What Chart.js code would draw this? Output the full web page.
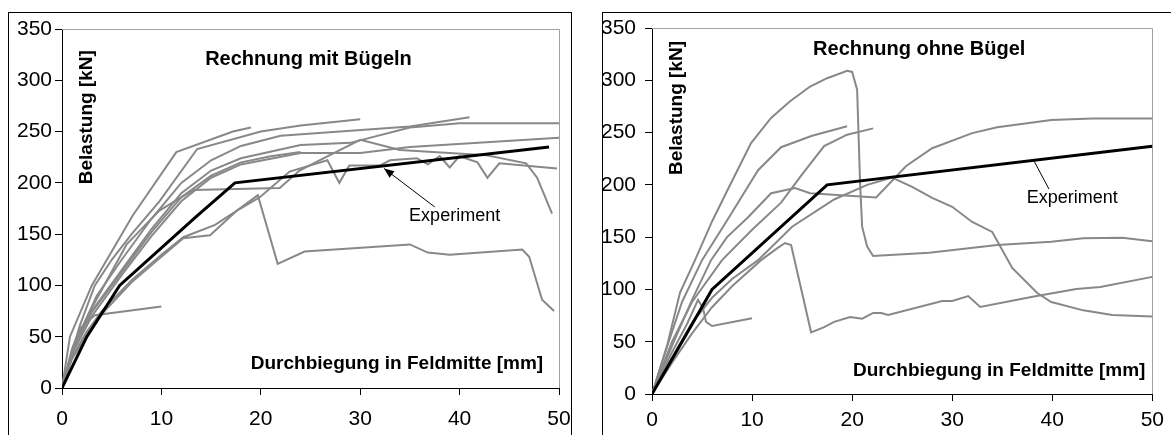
<!DOCTYPE html>
<html><head><meta charset="utf-8">
<script src="https://cdn.jsdelivr.net/npm/chart.js@4.4.1/dist/chart.umd.min.js"></script>
<style>
html,body{margin:0;padding:0;background:#fff;overflow:hidden;width:1171px;height:435px;position:relative;}
.frame{position:absolute;border:1px solid #000;box-sizing:border-box;}
canvas{position:absolute;top:0;}
</style></head><body>
<div class="frame" style="left:8px;top:12px;width:564px;height:600px;"></div>
<div class="frame" style="left:602px;top:12px;width:700px;height:600px;"></div>
<canvas id="c1" width="585" height="435" style="left:0px"></canvas>
<canvas id="c2" width="586" height="435" style="left:585px"></canvas>
<script>
// ---------- tick values ----------
const xTickValues = [0, 10, 20, 30, 40, 50];
const yTickValues = [0, 50, 100, 150, 200, 250, 300, 350];

// ---------- texts ----------
const leftTitle = 'Rechnung mit Bügeln';
const rightTitle = 'Rechnung ohne Bügel';
const yAxisTitle = 'Belastung [kN]';
const xAxisTitle = 'Durchbiegung in Feldmitte [mm]';
const expLabel = 'Experiment';

// ---------- left chart: Rechnung mit Bügeln ----------
const leftExperiment = [[0,0],[2.5,50],[5.8,100],[13.5,167],[17.4,200],[49,235]];
const leftCalc1 = [[0,0],[0.8,50],[3,100],[7.1,168],[11.5,230],[17.2,250],[19,254]];
const leftCalc2 = [[0,0],[1.8,61],[3.3,100],[5,125],[7,150],[9.8,182],[13.6,233],[20,250],[24,256],[30,262]];
const leftCalc3 = [[0,0],[1.5,48],[3.5,90],[6,125],[9,165],[12,200],[15,222],[18,236],[22,246],[35,255],[41,264]];
const leftCalc4 = [[0,0],[1.2,40],[3,75],[6,115],[9,155],[12,190],[15,212],[18,224],[24,237],[29,239],[35,254],[40,258],[50,258]];
const leftCalc5 = [[0,0],[1,33],[3,70],[6,110],[9,148],[12,182],[15,205],[18,218],[24,229],[30,229],[35,235],[50,244]];
const leftCalc6 = [[0,0],[1,36],[3,74],[6,113],[9,152],[12,186],[15,207],[18,220],[21,226],[24,230]];
const leftCalc7 = [[0,0],[1.2,42],[3,78],[6.5,140],[9.8,173],[13.2,193],[21.9,195],[23.9,212],[25.9,222],[30,242],[34,232],[42.7,227],[46.7,219],[47.8,205],[49.3,170]];
const leftCalc8 = [[0,0],[1,30],[2.5,55],[4,75],[7,105],[10,130],[12.2,147],[15.4,159],[17.6,173],[19.9,186],[22.9,211],[26.7,222],[27.9,200],[28.9,217],[32,217],[33,222],[35.7,224],[36.8,218],[38,226],[39,215],[40,226],[41.8,220],[42.8,205],[44,219],[49.8,214]];
const leftCalc9 = [[0,0],[1,28],[2.5,52],[4,72],[7,103],[10,128],[12.2,146],[14.9,149],[17.6,173],[19.7,188],[21.7,121],[24.4,133],[35,140],[36.8,132],[39,130],[46.3,135],[47,128],[48.3,86],[49.5,75]];
const leftCalc10 = [[0,0],[1,38],[1.8,58],[3.3,71],[10,79.5]];

// ---------- right chart: Rechnung ohne Bügel ----------
const rightExperiment = [[0,0],[6,100],[17.5,200],[50,237]];
const rightCalc1 = [[0,0],[1.5,46],[2.8,97],[4.3,128],[6,165],[7.7,198],[9.9,240],[11.9,264],[13.8,280],[15.8,294],[17.5,302],[19.5,309],[20,308],[20.5,291],[20.8,200],[21,160],[21.5,141],[22.1,132],[27.7,135],[34.5,142.5],[39.9,145.6],[43.1,149],[47,149.5],[50,146]];
const rightCalc2 = [[0,0],[1.5,45],[3,88],[5,128],[7.7,169],[10.6,214],[12.9,236],[16,247],[19.5,256]];
const rightCalc3 = [[0,0],[2,50],[4,88],[7,128],[10,157],[12.9,183],[15,210],[17.2,237],[19.5,248],[22.1,254]];
const rightCalc4 = [[0,0],[2,46],[4,90],[5.9,128],[7.5,150],[9.6,169],[11.9,192],[14.3,197],[15.8,192],[22.4,188],[25.4,218],[28,235],[32,249.5],[34.5,255],[39.9,262],[44,263.5],[50,263.5]];
const rightCalc5 = [[0,0],[2,35],[4,68],[6,92],[8,110],[10.6,128],[14,160],[18.2,186],[21.5,200],[24,207],[26,198],[28,187.5],[30,179],[32,164.5],[34,155],[36,120.5],[38.5,96.6],[39.9,88],[43.1,80],[46,75.5],[50,74]];
const rightCalc6 = [[0,0],[2,30],[4,58],[6,83],[8,103],[10.9,128],[12.6,140],[13.3,144.4],[13.9,142.5],[15.9,59],[17.2,64],[18.2,69],[19.8,73.6],[21,72],[22.1,77.5],[22.9,77.5],[23.6,75.5],[29,89],[30,89],[31.6,93.7],[32.8,83.2],[37.9,92.8],[42.4,100.4],[44.8,102.3],[50,112]];
const rightCalc7 = [[0,0],[2,40],[3.5,67],[4.6,90],[5.1,82],[5.4,69],[6,65],[10,72.5]];

const leftCalcs = [leftCalc1,leftCalc2,leftCalc3,leftCalc4,leftCalc5,leftCalc6,leftCalc7,leftCalc8,leftCalc9,leftCalc10];
const rightCalcs = [rightCalc1,rightCalc2,rightCalc3,rightCalc4,rightCalc5,rightCalc6,rightCalc7];

// ---------- rendering ----------
const FONT = '"Liberation Sans", Arial, Helvetica, sans-serif';
const toXY = arr => arr.map(p => ({x: p[0], y: p[1]}));

const decor = {
  id: 'decor',
  beforeDatasetsDraw(chart) {
    const {ctx, chartArea: a} = chart;
    ctx.save();
    ctx.strokeStyle = '#a0a0a0';
    ctx.lineWidth = 1;
    ctx.beginPath();
    ctx.moveTo(a.left, Math.round(a.top) + 0.5);
    ctx.lineTo(Math.round(a.right) + 0.5, Math.round(a.top) + 0.5);
    ctx.lineTo(Math.round(a.right) + 0.5, a.bottom);
    ctx.stroke();
    ctx.restore();
  },
  afterDatasetsDraw(chart, args, o) {
    const ctx = chart.ctx;
    const px = v => chart.scales.x.getPixelForValue(v);
    const py = v => chart.scales.y.getPixelForValue(v);
    ctx.save();
    ctx.fillStyle = '#000';
    ctx.textBaseline = 'middle';
    ctx.font = 'bold 20px ' + FONT;
    ctx.textAlign = 'left';
    ctx.fillText(o.title, px(o.titleAt[0]), py(o.titleAt[1]));
    ctx.font = 'bold 19px ' + FONT;
    ctx.textAlign = 'center';
    ctx.fillText(o.xTitle, px(o.xTitleAt[0]), py(o.xTitleAt[1]));
    ctx.save();
    ctx.translate(px(o.yTitleAt[0]), py(o.yTitleAt[1]));
    ctx.rotate(-Math.PI / 2);
    ctx.fillText(o.yTitle, 0, 0);
    ctx.restore();
    ctx.font = '18px ' + FONT;
    ctx.fillText(o.label, px(o.labelAt[0]), py(o.labelAt[1]));
    // pointer
    const x1 = px(o.ptrFrom[0]), y1 = py(o.ptrFrom[1]);
    const x2 = px(o.ptrTo[0]), y2 = py(o.ptrTo[1]);
    ctx.strokeStyle = '#000';
    ctx.lineWidth = 1;
    ctx.beginPath();
    ctx.moveTo(x1, y1);
    ctx.lineTo(x2, y2);
    ctx.stroke();
    if (o.arrow) {
      const ang = Math.atan2(y2 - y1, x2 - x1);
      const L = 10, W = 4;
      ctx.beginPath();
      ctx.moveTo(x2, y2);
      ctx.lineTo(x2 - L * Math.cos(ang) + W * Math.sin(ang), y2 - L * Math.sin(ang) - W * Math.cos(ang));
      ctx.lineTo(x2 - L * Math.cos(ang) - W * Math.sin(ang), y2 - L * Math.sin(ang) + W * Math.cos(ang));
      ctx.closePath();
      ctx.fill();
    }
    ctx.restore();
  }
};

function makeChart(id, exp, calcs, cfg) {
  const datasets = [{
    data: toXY(exp), showLine: true, borderColor: '#000', borderWidth: 3,
    pointRadius: 0, tension: 0, fill: false
  }];
  calcs.forEach(c => datasets.push({
    data: toXY(c), showLine: true, borderColor: '#888888', borderWidth: 2,
    pointRadius: 0, tension: 0, fill: false
  }));
  const tickFont = {family: FONT, size: 21};
  return new Chart(document.getElementById(id), {
    type: 'scatter',
    data: {datasets},
    options: {
      responsive: false,
      animation: false,
      events: [],
      layout: {padding: {left: 0, top: cfg.top, right: cfg.right, bottom: 0}},
      plugins: {legend: {display: false}, tooltip: {enabled: false}, decor: cfg.decor},
      scales: {
        x: {
          type: 'linear', position: 'bottom',
          min: xTickValues[0], max: xTickValues[xTickValues.length - 1],
          afterBuildTicks: s => { s.ticks = xTickValues.map(v => ({value: v})); },
          afterFit: s => { s.height = cfg.xH; },
          grid: {drawOnChartArea: false, drawTicks: true, tickLength: 7, color: '#000', lineWidth: 1},
          border: {display: true, color: '#000', width: 1},
          ticks: {color: '#000', font: tickFont, padding: cfg.xPad, maxRotation: 0, autoSkip: false}
        },
        y: {
          type: 'linear', position: 'left',
          min: yTickValues[0], max: yTickValues[yTickValues.length - 1],
          afterBuildTicks: s => { s.ticks = yTickValues.map(v => ({value: v})); },
          afterFit: s => { s.width = cfg.yW; },
          grid: {drawOnChartArea: false, drawTicks: true, tickLength: 7, color: '#000', lineWidth: 1},
          border: {display: true, color: '#000', width: 1},
          ticks: {color: '#000', font: tickFont, padding: cfg.yPad, autoSkip: false}
        }
      }
    },
    plugins: [decor]
  });
}

makeChart('c1', leftExperiment, leftCalcs, {
  top: 29, right: 26, xH: 47, yW: 62, xPad: 12, yPad: 3,
  decor: {
    title: leftTitle, titleAt: [14.4, 320],
    xTitle: xAxisTitle, xTitleAt: [33.7, 24],
    yTitle: yAxisTitle, yTitleAt: [2.5, 264],
    label: expLabel, labelAt: [39.5, 167.5],
    ptrFrom: [37.5, 176.5], ptrTo: [32.4, 214], arrow: true
  }
});

makeChart('c2', rightExperiment, rightCalcs, {
  top: 28, right: 11, xH: 41, yW: 67, xPad: 7, yPad: 9,
  decor: {
    title: rightTitle, titleAt: [16.1, 329.4],
    xTitle: xAxisTitle, xTitleAt: [34.7, 22],
    yTitle: yAxisTitle, yTitleAt: [2.46, 273.5],
    label: expLabel, labelAt: [42, 187.4],
    ptrFrom: [39.67, 196], ptrTo: [38.2, 222.5], arrow: false
  }
});
</script>
</body></html>
